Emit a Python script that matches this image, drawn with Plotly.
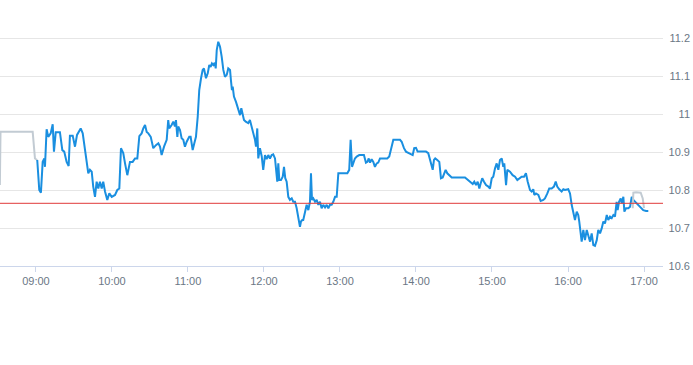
import pandas as pd
import plotly.graph_objects as go

# minutes after 09:00 and prices of the intraday line
minutes = [1.0, 2.6, 3.9, 5.3, 6.6, 7.1, 8.4, 9.7, 11.6, 13.2, 14.2, 15.6, 18.9, 20.8, 22.3, 24.2, 25.8, 26.8, 29.0, 30.8,
           32.4, 33.9, 35.3, 36.9, 38.7, 40.0, 41.3, 42.6, 44.0, 45.2, 46.6, 47.9, 49.2, 50.5, 51.9, 53.1, 54.5, 56.3, 57.9, 59.8,
           62.4, 64.2, 65.8, 67.1, 68.9, 70.3, 72.1, 74.2, 76.3, 78.2, 80.0, 81.6, 83.4, 84.7, 86.1, 87.4, 88.7, 90.6, 92.6, 94.7,
           96.6, 97.9, 99.2, 101.1, 103.2, 104.4, 105.2, 107.1, 108.4, 109.7, 110.5, 111.6, 112.3, 113.7, 115.0, 116.3, 117.6, 119.0, 121.0, 122.1,
           123.7, 125.0, 126.3, 127.7, 128.9, 130.3, 131.6, 132.6, 134.2, 135.6, 136.8, 137.9, 138.9, 140.0, 141.1, 141.9, 142.7, 143.9, 145.3, 146.6,
           147.9, 149.2, 150.6, 151.8, 153.2, 153.9, 154.7, 155.3, 156.3, 157.9, 158.9, 160.0, 161.1, 162.1, 163.2, 164.2, 165.6, 167.6, 168.9, 170.3,
           171.5, 172.9, 173.7, 174.7, 175.5, 176.8, 178.2, 179.4, 180.8, 182.1, 183.4, 184.7, 186.1, 187.3, 188.7, 189.5, 190.5, 191.3, 192.1, 193.4,
           194.8, 195.8, 196.8, 197.9, 199.2, 200.5, 201.9, 203.1, 204.5, 205.8, 207.1, 208.4, 209.2, 210.2, 211.0, 212.4, 213.7, 215.0, 216.3, 217.1,
           217.9, 218.9, 220.3, 221.6, 222.9, 224.2, 225.5, 226.8, 228.2, 229.5, 230.8, 232.1, 233.4, 234.7, 236.1, 237.4, 238.7, 241.3, 243.9, 245.8,
           247.3, 248.4, 249.5, 250.5, 251.8, 253.2, 255.2, 257.1, 258.9, 260.5, 261.6, 262.7, 263.7, 265.0, 266.3, 267.6, 269.0, 270.2, 271.6, 275.5,
           277.3, 278.9, 280.8, 282.1, 284.8, 287.4, 288.7, 290.5, 292.1, 293.9, 295.8, 297.4, 298.6, 300.0, 301.3, 303.2, 307.9, 309.7, 311.1, 312.4,
           313.2, 314.2, 315.2, 316.8, 318.4, 319.7, 321.1, 322.1, 323.4, 324.7, 326.3, 328.2, 338.7, 340.5, 342.6, 344.8, 346.0, 347.4, 348.7, 350.0,
           351.1, 352.3, 353.7, 355.3, 357.1, 358.4, 359.8, 361.0, 362.4, 363.7, 365.0, 366.3, 367.7, 368.9, 369.7, 371.1, 372.1, 374.2, 376.3, 378.2,
           380.0, 381.6, 383.4, 385.3, 386.8, 388.2, 390.0, 391.3, 392.6, 393.4, 394.7, 396.6, 398.4, 400.5, 401.8, 403.7, 405.2, 407.1, 408.9, 410.3,
           411.5, 413.1, 415.0, 416.3, 417.6, 420.2, 421.6, 422.9, 424.2, 425.5, 426.9, 428.1, 428.9, 430.0, 430.8, 432.1, 433.4, 434.8, 436.0, 437.4,
           438.7, 440.0, 441.3, 442.7, 443.9, 445.3, 446.6, 447.9, 449.2, 450.6, 451.8, 453.2, 454.5, 455.8, 457.1, 458.4, 459.2, 460.3, 461.6, 462.4,
           463.7, 464.5, 465.8, 467.6, 469.0, 470.3, 471.6, 474.2, 476.8, 479.4, 481.6, 483.4]
prices = [10.879, 10.800, 10.793, 10.874, 10.883, 10.861, 10.960, 10.940, 10.949, 10.973, 10.901, 10.952, 10.952, 10.905, 10.901, 10.874, 10.863, 10.943, 10.943, 10.914,
          10.945, 10.953, 10.962, 10.949, 10.905, 10.879, 10.844, 10.853, 10.848, 10.809, 10.782, 10.822, 10.804, 10.822, 10.804, 10.822, 10.796, 10.774, 10.791, 10.782,
          10.787, 10.800, 10.804, 10.910, 10.897, 10.870, 10.839, 10.874, 10.874, 10.883, 10.883, 10.942, 10.949, 10.962, 10.971, 10.953, 10.949, 10.940, 10.910, 10.918,
          10.923, 10.914, 10.892, 10.914, 10.932, 10.984, 10.962, 10.971, 10.980, 10.967, 10.984, 10.940, 10.967, 10.958, 10.936, 10.932, 10.914, 10.927, 10.940, 10.940,
          10.905, 10.923, 10.940, 10.993, 11.063, 11.094, 11.116, 11.120, 11.094, 11.107, 11.129, 11.124, 11.133, 11.129, 11.135, 11.120, 11.168, 11.190, 11.177, 11.151,
          11.116, 11.098, 11.103, 11.120, 11.116, 11.089, 11.063, 11.072, 11.046, 11.032, 11.019, 11.011, 10.997, 11.015, 10.993, 10.984, 10.980, 10.976, 10.984, 10.967,
          10.949, 10.932, 10.914, 10.962, 10.883, 10.910, 10.889, 10.853, 10.892, 10.881, 10.892, 10.883, 10.892, 10.894, 10.883, 10.853, 10.822, 10.870, 10.826, 10.826,
          10.835, 10.861, 10.831, 10.822, 10.782, 10.774, 10.778, 10.769, 10.769, 10.752, 10.730, 10.703, 10.717, 10.721, 10.721, 10.743, 10.761, 10.747, 10.769, 10.844,
          10.774, 10.778, 10.769, 10.774, 10.761, 10.769, 10.752, 10.761, 10.754, 10.761, 10.752, 10.761, 10.761, 10.769, 10.782, 10.782, 10.844, 10.844, 10.844, 10.844,
          10.853, 10.932, 10.861, 10.874, 10.883, 10.888, 10.892, 10.892, 10.892, 10.872, 10.874, 10.883, 10.872, 10.881, 10.874, 10.861, 10.870, 10.872, 10.883, 10.883,
          10.883, 10.888, 10.910, 10.932, 10.932, 10.932, 10.927, 10.910, 10.901, 10.898, 10.894, 10.892, 10.910, 10.911, 10.901, 10.901, 10.901, 10.897, 10.879, 10.870,
          10.853, 10.879, 10.883, 10.879, 10.874, 10.831, 10.833, 10.842, 10.853, 10.844, 10.839, 10.833, 10.833, 10.828, 10.822, 10.816, 10.822, 10.813, 10.822, 10.804,
          10.818, 10.831, 10.822, 10.813, 10.809, 10.804, 10.831, 10.835, 10.857, 10.870, 10.853, 10.879, 10.883, 10.861, 10.870, 10.813, 10.853, 10.848, 10.839, 10.835,
          10.826, 10.831, 10.835, 10.835, 10.844, 10.822, 10.800, 10.796, 10.802, 10.787, 10.791, 10.787, 10.771, 10.774, 10.778, 10.791, 10.804, 10.804, 10.809, 10.822,
          10.809, 10.802, 10.796, 10.802, 10.800, 10.802, 10.791, 10.761, 10.743, 10.721, 10.743, 10.734, 10.717, 10.690, 10.664, 10.695, 10.668, 10.695, 10.677, 10.664,
          10.686, 10.655, 10.653, 10.668, 10.695, 10.686, 10.699, 10.717, 10.712, 10.734, 10.721, 10.730, 10.726, 10.734, 10.730, 10.769, 10.747, 10.769, 10.778, 10.765,
          10.782, 10.743, 10.752, 10.752, 10.756, 10.782, 10.774, 10.765, 10.756, 10.747, 10.745, 10.745]

# auction / out-of-session segments (grey)
pre_minutes = [-28.5, -28.0, -2.6, -0.8, 1.0]
pre_prices = [10.813, 10.953, 10.953, 10.883, 10.879]
post_minutes = [471.1, 471.6, 473.7, 477.4, 479.0, 480.0]
post_prices = [10.752, 10.793, 10.794, 10.793, 10.778, 10.752]

prev_close = 10.765
y_ticks = [10.6, 10.7, 10.8, 10.9, 11.0, 11.1, 11.2]

base = pd.Timestamp("2024-01-02 09:00:00")
to_time = lambda mins: [base + pd.Timedelta(minutes=m) for m in mins]

W, H = 693, 365
plot_right = 663
top_px, bottom_px, pad_px = 10, 266, 20
px_per_unit = 380
y_top = 10.6 + (bottom_px - top_px) / px_per_unit
area_h = bottom_px + pad_px - top_px
main_domain = [pad_px / area_h, 1]
y_range = [10.6, y_top]
y_range_labels = [10.6 - pad_px / px_per_unit, y_top]
label_color = "#6b7785"

fig = go.Figure()
fig.add_trace(go.Scatter(x=to_time(pre_minutes), y=pre_prices, mode="lines",
                         line=dict(color="#c2cbd3", width=2), hoverinfo="skip", showlegend=False))
fig.add_trace(go.Scatter(x=to_time(minutes), y=prices, mode="lines",
                         line=dict(color="#1a8fe0", width=2), showlegend=False))
fig.add_trace(go.Scatter(x=to_time(post_minutes), y=post_prices, mode="lines",
                         line=dict(color="#c2cbd3", width=2), hoverinfo="skip", showlegend=False))
# invisible trace on the label strip so its axes render
fig.add_trace(go.Scatter(x=[0, 1], y=y_range_labels, mode="lines", line=dict(width=0), xaxis="x2", yaxis="y2",
                         hoverinfo="skip", showlegend=False))

fig.add_shape(type="line", xref="x domain", x0=0, x1=1, yref="y", y0=prev_close, y1=prev_close,
              line=dict(color="#e03a3a", width=1), layer="above")

fig.update_layout(
    width=W, height=H,
    margin=dict(l=0, r=0, t=top_px, b=H - bottom_px - pad_px),
    paper_bgcolor="white", plot_bgcolor="white",
    font=dict(family="Liberation Sans, Arial, sans-serif", size=11, color=label_color),
    xaxis=dict(
        type="date",
        domain=[0, plot_right / W],
        anchor="y",
        range=[base + pd.Timedelta(minutes=-28.4), base + pd.Timedelta(minutes=495)],
        tickformat="%H:%M", dtick=3600000,
        tick0=base,
        showgrid=False, zeroline=False,
        showline=True, linecolor="#ccd6eb", linewidth=1,
        ticks="outside", ticklen=5, tickcolor="#ccd6eb",
        tickfont=dict(size=11, color=label_color),
        automargin=False,
    ),
    yaxis=dict(
        domain=main_domain,
        range=y_range,
        tickvals=y_ticks,
        showgrid=True, gridcolor="#e6e6e6", gridwidth=1,
        zeroline=False, showline=False, ticks="", showticklabels=False,
        automargin=False,
    ),
    xaxis2=dict(domain=[plot_right / W, 1], range=[0, 1], visible=False, fixedrange=True, anchor="y2"),
    yaxis2=dict(
        anchor="x2", domain=[0, 1], range=y_range_labels, side="right", ticklabelposition="inside",
        tickvals=y_ticks, ticktext=[f"{v:g}" for v in y_ticks],
        showgrid=False, zeroline=False, showline=False, ticks="",
        tickfont=dict(size=11, color=label_color),
        automargin=False,
    ),
)

fig.write_html("out.html", config={"displayModeBar": False},
               post_script="document.body.style.margin='0px';")
